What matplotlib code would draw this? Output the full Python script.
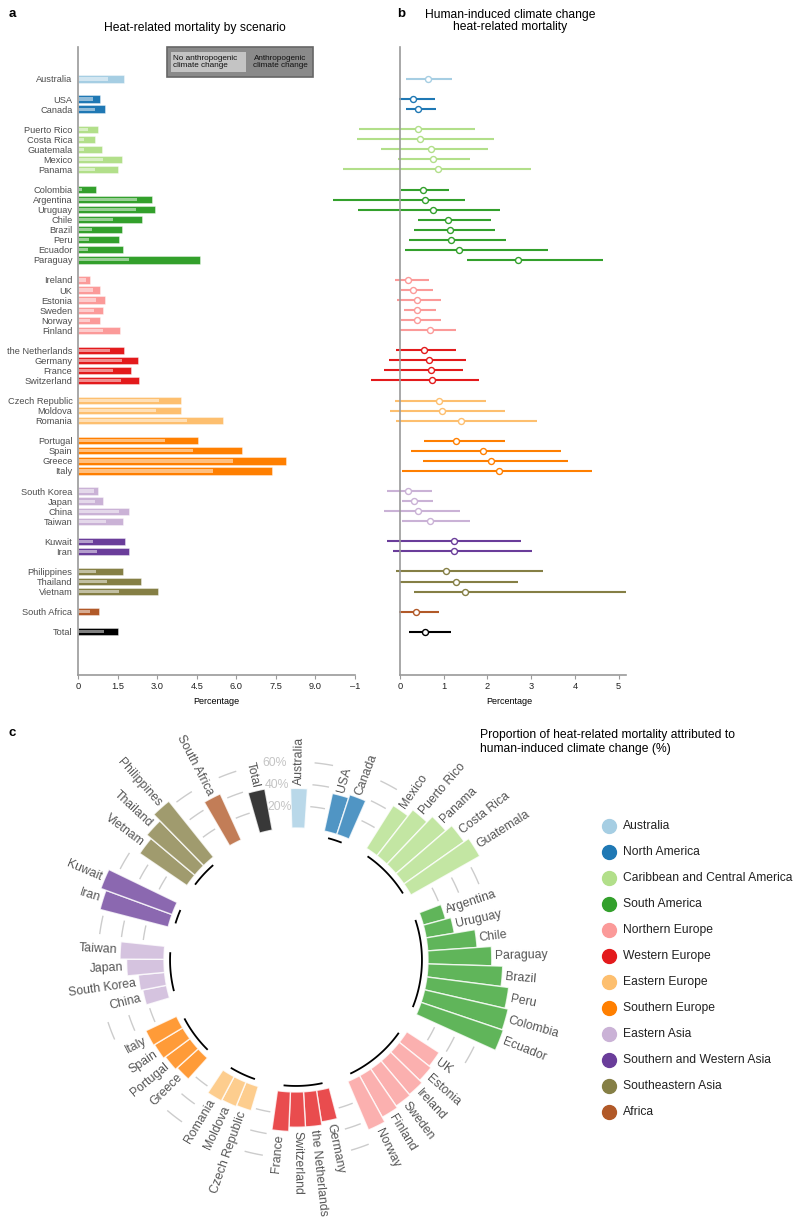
import numpy as np
import matplotlib
matplotlib.use('Agg')
import matplotlib.pyplot as plt
from matplotlib.patches import Rectangle

plt.rcParams['font.family'] = ['Liberation Sans', 'DejaVu Sans']

# regions and colours
regions = ['Australia', 'North America', 'Caribbean and Central America', 'South America',
           'Northern Europe', 'Western Europe', 'Eastern Europe', 'Southern Europe',
           'Eastern Asia', 'Southern and Western Asia', 'Southeastern Asia', 'Africa', 'Total']
region_colors = ['#a6cee3', '#1f78b4', '#b2df8a', '#33a02c', '#fb9a99', '#e31a1c',
                 '#fdbf6f', '#ff7f00', '#cab2d6', '#6a3d9a', '#857f45', '#b15928', '#000000']

# countries of panels a/b, grouped by region
region_countries = [
    ['Australia'],
    ['USA', 'Canada'],
    ['Puerto Rico', 'Costa Rica', 'Guatemala', 'Mexico', 'Panama'],
    ['Colombia', 'Argentina', 'Uruguay', 'Chile', 'Brazil', 'Peru', 'Ecuador', 'Paraguay'],
    ['Ireland', 'UK', 'Estonia', 'Sweden', 'Norway', 'Finland'],
    ['the Netherlands', 'Germany', 'France', 'Switzerland'],
    ['Czech Republic', 'Moldova', 'Romania'],
    ['Portugal', 'Spain', 'Greece', 'Italy'],
    ['South Korea', 'Japan', 'China', 'Taiwan'],
    ['Kuwait', 'Iran'],
    ['Philippines', 'Thailand', 'Vietnam'],
    ['South Africa'],
    ['Total'],
]

# panel a: heat-related mortality (%) with / without anthropogenic climate change
mort_anthro = [1.75, 0.84, 1.04, 0.77, 0.66, 0.92, 1.68, 1.51, 0.68, 2.80, 2.91, 2.41, 1.67,
               1.56, 1.71, 4.61, 0.44, 0.85, 1.04, 0.96, 0.84, 1.60, 1.76, 2.26, 2.02, 2.33,
               3.91, 3.90, 5.51, 4.54, 6.23, 7.90, 7.36, 0.75, 0.94, 1.92, 1.72, 1.77, 1.94,
               1.71, 2.37, 3.03, 0.81, 1.53]
mort_natural = [1.15, 0.56, 0.65, 0.38, 0.23, 0.23, 0.95, 0.66, 0.15, 2.25, 2.19, 1.33, 0.54,
                0.42, 0.39, 1.94, 0.29, 0.57, 0.68, 0.61, 0.47, 0.95, 1.23, 1.65, 1.34, 1.62,
                3.06, 2.96, 4.15, 3.30, 4.35, 5.86, 5.11, 0.60, 0.66, 1.55, 1.06, 0.58, 0.73,
                0.67, 1.11, 1.57, 0.46, 0.98]

# panel b: human-induced heat-related mortality (%), central estimate and range
hic_mid = [0.63, 0.30, 0.41, 0.41, 0.45, 0.71, 0.75, 0.88, 0.53, 0.58, 0.75, 1.10, 1.14,
           1.17, 1.34, 2.69, 0.19, 0.30, 0.38, 0.39, 0.40, 0.69, 0.56, 0.66, 0.72, 0.74,
           0.89, 0.96, 1.39, 1.27, 1.90, 2.07, 2.26, 0.18, 0.32, 0.42, 0.69, 1.23, 1.24,
           1.06, 1.27, 1.49, 0.37, 0.58]
hic_lo = [0.14, -0.02, 0.14, -0.94, -0.98, -0.43, -0.04, -1.30, 0.02, -1.54, -0.97, 0.41, 0.33,
          0.21, 0.11, 1.54, -0.12, 0.02, -0.07, 0.09, 0.02, 0.00, -0.08, -0.24, -0.37, -0.66,
          -0.11, -0.22, -0.10, 0.55, 0.26, 0.53, 0.05, -0.30, 0.05, -0.37, 0.05, -0.30, -0.15,
          -0.08, 0.00, 0.31, -0.03, 0.21]
hic_hi = [1.18, 0.79, 0.82, 1.71, 2.14, 2.02, 1.61, 3.00, 1.12, 1.48, 2.28, 2.07, 2.18,
          2.42, 3.39, 4.63, 0.66, 0.75, 0.94, 0.82, 0.94, 1.27, 1.29, 1.52, 1.43, 1.80,
          1.96, 2.41, 3.13, 2.39, 3.67, 3.85, 4.38, 0.74, 0.76, 1.37, 1.59, 2.77, 3.01,
          3.28, 2.70, 5.16, 0.90, 1.16]

# panel c: proportion attributed to human-induced climate change (%), ring order
ring_countries = [
    ['Australia'],
    ['USA', 'Canada'],
    ['Mexico', 'Puerto Rico', 'Panama', 'Costa Rica', 'Guatemala'],
    ['Argentina', 'Uruguay', 'Chile', 'Paraguay', 'Brazil', 'Peru', 'Colombia', 'Ecuador'],
    ['UK', 'Estonia', 'Ireland', 'Sweden', 'Finland', 'Norway'],
    ['Germany', 'the Netherlands', 'Switzerland', 'France'],
    ['Czech Republic', 'Moldova', 'Romania'],
    ['Greece', 'Portugal', 'Spain', 'Italy'],
    ['China', 'South Korea', 'Japan', 'Taiwan'],
    ['Iran', 'Kuwait'],
    ['Vietnam', 'Thailand', 'Philippines'],
    ['South Africa'],
    ['Total'],
]
ring_props = [
    [36],
    [35, 38],
    [46, 53, 60, 67, 72],
    [21, 26, 45, 58, 68, 75, 78, 79],
    [35, 37, 40, 41, 43, 48],
    [29, 32, 32, 36],
    [23, 24, 25],
    [26, 28, 30, 31],
    [22, 24, 34, 40],
    [64, 69],
    [52, 57, 65],
    [46],
    [38],
]

grey = '#9a9a9a'
label_grey = '#4d4d4d'

fig = plt.figure(figsize=(8, 12.27), dpi=100)
W, H = 800.0, 1227.0

names = [c for grp in region_countries for c in grp]
colors = [region_colors[i] for i, grp in enumerate(region_countries) for c in grp]
ypos = []
y = 0
for grp in region_countries:
    for c in grp:
        ypos.append(y)
        y += 1
    y += 1
ypos = np.array(ypos)

# ---------------- panel a
axa = fig.add_axes([78 / W, 1 - 675 / H, 277 / W, 628 / H])
axa.patch.set_alpha(0)
axa.barh(ypos, mort_anthro, height=0.72, color=colors, edgecolor=(1, 1, 1, 0.45), lw=0.6)
axa.barh(ypos, mort_natural, height=0.32, color='white', alpha=0.5, lw=0)
axa.set_xlim(0, 10.5)
axa.set_ylim(59.3, -3.18)
axa.set_xticks([0, 1.5, 3.0, 4.5, 6.0, 7.5, 9.0, 10.5])
axa.set_xticklabels(['0', '1.5', '3.0', '4.5', '6.0', '7.5', '9.0', '\u20131'])
axa.set_yticks(ypos)
axa.set_yticklabels(names)
axa.tick_params(axis='y', length=0, pad=4, labelsize=6.7, labelcolor=label_grey)
axa.tick_params(axis='x', length=3, width=0.8, color=grey, labelsize=6.7, pad=2, labelcolor='#222')
for s in ['top', 'right']:
    axa.spines[s].set_visible(False)
for s in ['left', 'bottom']:
    axa.spines[s].set_color(grey)
    axa.spines[s].set_linewidth(1.2)

# ---------------- panel b
axb = fig.add_axes([330 / W, 1 - 675 / H, 296 / W, 628 / H])
axb.patch.set_alpha(0)
for i in range(len(names)):
    axb.plot([hic_lo[i], hic_hi[i]], [ypos[i], ypos[i]], color=colors[i], lw=1.5,
             solid_capstyle='butt', zorder=2)
    axb.plot(hic_mid[i], ypos[i], 'o', mfc='white', mec=colors[i], ms=4.3, mew=1.0, zorder=3)
axb.set_xlim(-1.6, 5.167)
axb.set_ylim(59.3, -3.18)
axb.set_xticks([0, 1, 2, 3, 4, 5])
axb.set_yticks([])
axb.tick_params(axis='x', length=3, width=0.8, color=grey, labelsize=6.7, pad=2, labelcolor='#222')
for s in ['top', 'right']:
    axb.spines[s].set_visible(False)
axb.spines['left'].set_position(('data', 0))
axb.spines['bottom'].set_bounds(0, 5.167)
for s in ['left', 'bottom']:
    axb.spines[s].set_color(grey)
    axb.spines[s].set_linewidth(1.2)

# ---------------- panel c
axc = fig.add_axes([54 / W, 1 - 1202 / H, 484 / W, 484 / H], projection='polar')
axc.set_theta_zero_location('N')
axc.set_theta_direction(-1)
axc.set_ylim(-10, 100)
axc.set_rorigin(-120)
axc.axis('off')

gap = 2.5
n_units = sum(len(g) - 1 for g in ring_countries) + gap * len(ring_countries)
unit = 2 * np.pi / n_units
t = np.deg2rad(1.0)
thetas = []
for grp in ring_countries:
    th = []
    for k in range(len(grp)):
        th.append(t)
        t += unit
    t += (gap - 1) * unit
    thetas.append(th)

for gi, grp in enumerate(ring_countries):
    c = region_colors[gi]
    axc.bar(thetas[gi], ring_props[gi], width=unit, bottom=0, color=c, alpha=0.78,
            edgecolor='white', lw=1.0, zorder=2)
    for th, name, v in zip(thetas[gi], grp, ring_props[gi]):
        deg = np.rad2deg(th) % 360
        if deg < 180:
            rot, ha = 90 - deg, 'left'
        else:
            rot, ha = 270 - deg, 'right'
        axc.text(th, v + 3, name, rotation=rot, rotation_mode='anchor', ha=ha, va='center',
                 fontsize=8.8, color='#555555')
    if len(grp) > 1:
        arc = np.linspace(thetas[gi][0], thetas[gi][-1], 40)
        axc.plot(arc, np.full(40, -5.5), color='black', lw=1.3)

hw = np.deg2rad(2.5)
for gi in range(len(ring_countries) - 1):
    mid = thetas[gi][-1] + gap * unit / 2
    for r in (20, 40, 60):
        axc.plot(np.linspace(mid - hw, mid + hw, 10), np.full(10, r), color='#cccccc', lw=1.0)
mid = thetas[-1][-1] + gap * unit / 2
for r in (20, 40, 60):
    axc.text(mid, r, '%d%%' % r, ha='center', va='center', color='#c4c4c4', fontsize=8.8)

# ---------------- overlay for titles and legends (pixel coordinates)
ov = fig.add_axes([0, 0, 1, 1])
ov.set_xlim(0, W)
ov.set_ylim(H, 0)
ov.axis('off')
ov.patch.set_alpha(0)

ov.text(12, 14, 'a', fontsize=9.5, fontweight='bold', ha='center', va='center')
ov.text(401, 14, 'b', fontsize=9.5, fontweight='bold', ha='center', va='center')
ov.text(12, 733, 'c', fontsize=9.5, fontweight='bold', ha='center', va='center')
ov.text(195, 28, 'Heat-related mortality by scenario', fontsize=8.7, ha='center', va='center')
ov.text(510, 21, 'Human-induced climate change\nheat-related mortality', fontsize=8.7,
        ha='center', va='center', linespacing=1.1)
ov.text(216, 701, 'Percentage', fontsize=6.5, ha='center', va='center')
ov.text(509, 701, 'Percentage', fontsize=6.5, ha='center', va='center')
ov.text(480, 742, 'Proportion of heat-related mortality attributed to\nhuman-induced climate change (%)',
        fontsize=8.7, ha='left', va='center', linespacing=1.15)

# scenario legend box of panel a
ov.add_patch(Rectangle((167, 47), 146, 30, fc='#8a8a8a', ec='#666666', lw=1.2))
ov.add_patch(Rectangle((171, 52), 75, 20, fc='#c4c4c4', ec='none'))
ov.text(173, 62, 'No anthropogenic\nclimate change', fontsize=5.9, ha='left', va='center',
        linespacing=1.1, color='#111')
ov.text(280, 62, 'Anthropogenic\nclimate change', fontsize=5.9, ha='center', va='center',
        linespacing=1.1, color='#111')

# region legend of panel c
leg_regions = regions[:-1]
for i, (name, c) in enumerate(zip(leg_regions, region_colors[:-1])):
    yy = 826 + i * 26.0
    ov.plot(609, yy, 'o', ms=10, color=c, mec=c)
    ov.text(623, yy, name, fontsize=8.7, ha='left', va='center', color='#222')

fig.savefig('out.png', dpi=100)
